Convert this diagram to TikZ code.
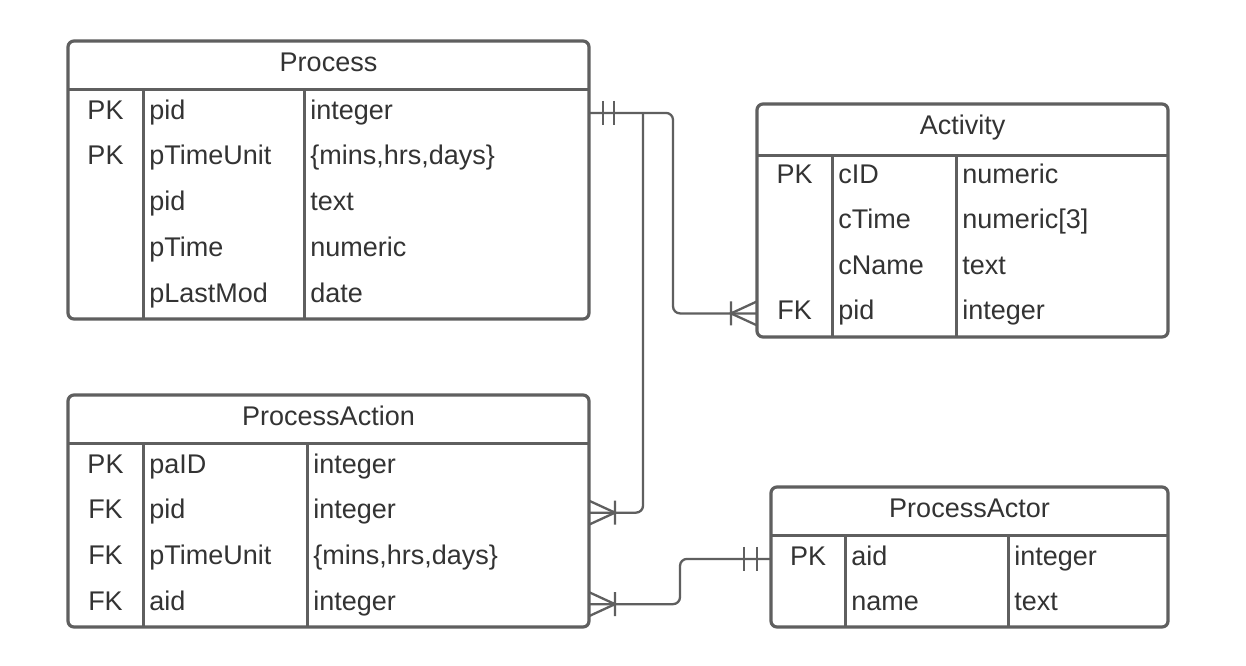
\documentclass[tikz,border=0pt]{standalone}
\usepackage{fontspec}
\setmainfont{Liberation Sans}
\usetikzlibrary{fit}
\definecolor{erline}{HTML}{5F5F5F}
\definecolor{ertext}{HTML}{333333}

\begin{document}
\begin{tikzpicture}[x=0.5pt, y=-0.5pt,
    erbox/.style={draw=erline, line width=1.6pt, rounded corners=3pt, inner sep=0pt, outer sep=0pt},
    erdiv/.style={draw=erline, line width=1.5pt},
    erconn/.style={draw=erline, line width=1.15pt},
    ercell/.style={text=ertext, font=\fontsize{13.5}{16}\selectfont, inner sep=0pt, text height=9.5pt, text depth=3.4pt},
    keycell/.style={ercell, anchor=base},
    fieldcell/.style={ercell, anchor=base west},
    headcell/.style={ercell, anchor=base}]

    \fill[white] (0,0) rectangle (1246,665);
    \useasboundingbox (0,0) rectangle (1246,665);

    % Tables
    \node[erbox, fit={(68,41) (589,319)}] (proc) {};
    \node[erbox, fit={(757,104) (1168,337)}] (act) {};
    \node[erbox, fit={(68,395) (589,627)}] (pact) {};
    \node[erbox, fit={(771,487) (1168,627)}] (actor) {};

    % Process
    \draw[erdiv] (proc.west |- 0,89) -- (proc.east |- 0,89);
    \draw[erdiv] (143,89) -- (143,319);
    \draw[erdiv] (304,89) -- (304,319);
    \node[headcell] (p-h) at (328.5,71) {Process};
    \foreach \k/\f/\t [count=\i] in {PK/pid/integer, PK/pTimeUnit/{\{mins,hrs,days\}}, /pid/text, /pTime/numeric, /pLastMod/date} {
        \node[keycell] (p-k\i) at (105.5, {119+45.75*(\i-1)}) {\k};
        \node[fieldcell] (p-f\i) at (149, {119+45.75*(\i-1)}) {\f};
        \node[fieldcell] (p-t\i) at (310, {119+45.75*(\i-1)}) {\t};
    }

    % Activity
    \draw[erdiv] (act.west |- 0,155) -- (act.east |- 0,155);
    \draw[erdiv] (832,155) -- (832,337);
    \draw[erdiv] (956,155) -- (956,337);
    \node[headcell] (a-h) at (962.5,134) {Activity};
    \foreach \k/\f/\t [count=\i] in {PK/cID/numeric, /cTime/numeric[3], /cName/text, FK/pid/integer} {
        \node[keycell] (a-k\i) at (794.5, {183+45.5*(\i-1)}) {\k};
        \node[fieldcell] (a-f\i) at (838, {183+45.5*(\i-1)}) {\f};
        \node[fieldcell] (a-t\i) at (962, {183+45.5*(\i-1)}) {\t};
    }

    % ProcessAction
    \draw[erdiv] (pact.west |- 0,443) -- (pact.east |- 0,443);
    \draw[erdiv] (143,443) -- (143,627);
    \draw[erdiv] (307,443) -- (307,627);
    \node[headcell] (pa-h) at (328.5,425) {ProcessAction};
    \foreach \k/\f/\t [count=\i] in {PK/paID/integer, FK/pid/integer, FK/pTimeUnit/{\{mins,hrs,days\}}, FK/aid/integer} {
        \node[keycell] (pa-k\i) at (105.5, {473+45.75*(\i-1)}) {\k};
        \node[fieldcell] (pa-f\i) at (149, {473+45.75*(\i-1)}) {\f};
        \node[fieldcell] (pa-t\i) at (313, {473+45.75*(\i-1)}) {\t};
    }

    % ProcessActor
    \draw[erdiv] (actor.west |- 0,535) -- (actor.east |- 0,535);
    \draw[erdiv] (845,535) -- (845,627);
    \draw[erdiv] (1008,535) -- (1008,627);
    \node[headcell] (ar-h) at (969.5,517) {ProcessActor};
    \foreach \k/\f/\t [count=\i] in {PK/aid/integer, /name/text} {
        \node[keycell] (ar-k\i) at (808, {565+45.75*(\i-1)}) {\k};
        \node[fieldcell] (ar-f\i) at (851, {565+45.75*(\i-1)}) {\f};
        \node[fieldcell] (ar-t\i) at (1014, {565+45.75*(\i-1)}) {\t};
    }

    % Relations
    \coordinate (c1) at (673,0);
    \coordinate (c2) at (643,0);
    \coordinate (c3) at (680,0);
    \draw[erconn, rounded corners=3.5pt] (proc.east |- p-f1) -| (c1 |- a-f4) -- (act.west |- a-f4);
    \draw[erconn, rounded corners=3.5pt] (c2 |- p-f1) -- (c2 |- pa-f2) -- (pact.east |- pa-f2);
    \draw[erconn, rounded corners=3.5pt] (pact.east |- pa-f4) -| (c3 |- ar-f1) -- (actor.west |- ar-f1);

    % Ends: one and only one / one or many
    \draw[erconn] (proc.east |- p-f1) ++(14,-12) -- ++(0,24) ++(11,-24) -- ++(0,24);
    \draw[erconn] (act.west |- a-f4) ++(0,-12) -- ++(-26,12) -- ++(26,12) ++(-26,-24) -- ++(0,24);
    \draw[erconn] (pact.east |- pa-f2) ++(0,-12) -- ++(26,12) -- ++(-26,12) ++(26,-24) -- ++(0,24);
    \draw[erconn] (pact.east |- pa-f4) ++(0,-12) -- ++(26,12) -- ++(-26,12) ++(26,-24) -- ++(0,24);
    \draw[erconn] (actor.west |- ar-f1) ++(-14,-12) -- ++(0,24) ++(-13,-24) -- ++(0,24);
\end{tikzpicture}
\end{document}
